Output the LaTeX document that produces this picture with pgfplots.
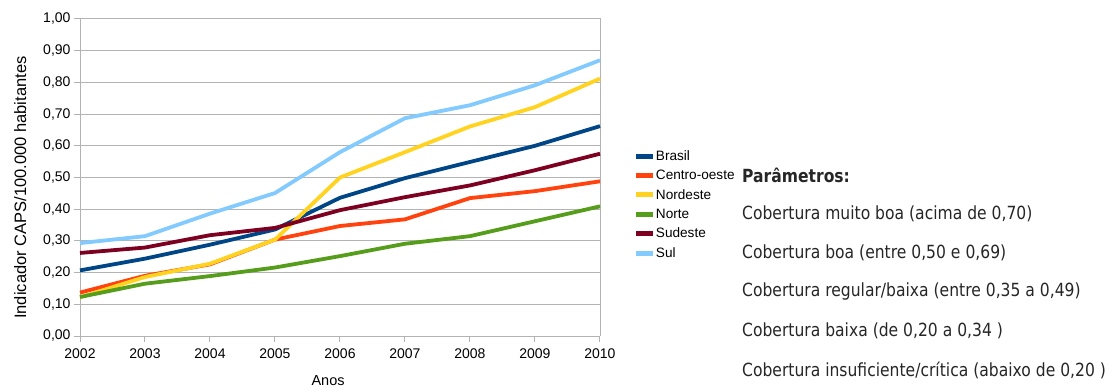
\documentclass[border=0pt]{standalone}
\usepackage{pgfplots}
\pgfplotsset{compat=1.18}
\usepackage{fontspec}
\setmainfont{Liberation Sans}
\newfontfamily\paramfont{DejaVu Sans}[FakeStretch=0.86]
\definecolor{cBrasil}{HTML}{004586}
\definecolor{cCentro}{HTML}{FF420E}
\definecolor{cNordeste}{HTML}{FFD320}
\definecolor{cNorte}{HTML}{579D1C}
\definecolor{cSudeste}{HTML}{7E0021}
\definecolor{cSul}{HTML}{83CAFF}
\definecolor{gridgray}{HTML}{B3B3B3}
\begin{document}
\begin{tikzpicture}[x=1pt,y=1pt]
\useasboundingbox (0,0) rectangle (1113,389);
\begin{axis}[
  at={(80pt,53pt)}, anchor=south west,
  scale only axis, width=520pt, height=317pt,
  xmin=2002, xmax=2010, ymin=0, ymax=1,
  xtick={2002,...,2010},
  ytick={0,0.1,...,1.0},
  /pgf/number format/assume math mode=true,
  xticklabel style={/pgf/number format/1000 sep={}, font=\fontsize{14}{16}\selectfont, yshift=-3pt},
  yticklabel style={/pgf/number format/.cd, fixed, fixed zerofill, precision=2, use comma, /tikz/.cd, font=\fontsize{14}{16}\selectfont},
  scaled y ticks=false,
  axis line style={gridgray, line width=1pt},
  ymajorgrids, grid style={gridgray, line width=1pt},
  tick style={gridgray, line width=1pt},
  xtick align=outside, ytick align=outside,
  major tick length=6pt,
  axis x line*=bottom, axis y line*=left,
  xlabel={Anos}, ylabel={Indicador CAPS/100.000 habitantes},
  xlabel style={font=\fontsize{14.5}{16}\selectfont, at={(axis description cs:0.477,0)}, anchor=center, yshift=-45pt},
  ylabel style={font=\fontsize{16.5}{18}\selectfont, at={(axis description cs:-0.115,0.468)}, anchor=center},
  legend style={at={(1.064,0.589)}, anchor=north west, draw=none, fill=none,
    font=\fontsize{13.6}{15}\selectfont, row sep=6.2pt, inner sep=0pt,
    nodes={inner xsep=0.5pt, inner ysep=1pt}},
  legend cell align=left,
  legend image code/.code={\draw[#1, line width=5pt, line cap=butt] (0pt,0pt) -- (17pt,0pt);},
  every axis plot/.append style={line width=3.8pt, line join=round, no markers},
  clip=false,
]
\draw[gridgray, line width=1pt] (axis cs:2002,1) -- (axis cs:2010,1) -- (axis cs:2010,0);
\addplot[cBrasil] coordinates {(2002,0.207)(2003,0.244)(2004,0.288)(2005,0.336)(2006,0.436)(2007,0.498)(2008,0.549)(2009,0.600)(2010,0.662)};
\addlegendentry{Brasil}
\addplot[cCentro] coordinates {(2002,0.137)(2003,0.190)(2004,0.226)(2005,0.304)(2006,0.347)(2007,0.368)(2008,0.435)(2009,0.457)(2010,0.488)};
\addlegendentry{Centro-oeste}
\addplot[cNordeste] coordinates {(2002,0.122)(2003,0.186)(2004,0.228)(2005,0.304)(2006,0.500)(2007,0.580)(2008,0.661)(2009,0.722)(2010,0.812)};
\addlegendentry{Nordeste}
\addplot[cNorte] coordinates {(2002,0.123)(2003,0.165)(2004,0.189)(2005,0.216)(2006,0.252)(2007,0.291)(2008,0.315)(2009,0.362)(2010,0.409)};
\addlegendentry{Norte}
\addplot[cSudeste] coordinates {(2002,0.262)(2003,0.279)(2004,0.318)(2005,0.341)(2006,0.397)(2007,0.438)(2008,0.475)(2009,0.523)(2010,0.575)};
\addlegendentry{Sudeste}
\addplot[cSul] coordinates {(2002,0.293)(2003,0.315)(2004,0.386)(2005,0.451)(2006,0.580)(2007,0.687)(2008,0.728)(2009,0.791)(2010,0.870)};
\addlegendentry{Sul}
\end{axis}
\begin{scope}[every node/.style={anchor=west, inner sep=0pt, text=black!85, font=\paramfont\fontsize{18.1}{20}\selectfont}]
\node[font=\paramfont\bfseries\fontsize{18.1}{20}\selectfont] at (742,389-175) {Parâmetros:};
\node at (742,389-214) {Cobertura muito boa (acima de 0,70)};
\node at (742,389-253) {Cobertura boa (entre 0,50 e 0,69)};
\node at (742,389-292) {Cobertura regular/baixa (entre 0,35 a 0,49)};
\node at (742,389-331) {Cobertura baixa (de 0,20 a 0,34 )};
\node at (742,389-370) {Cobertura insuficiente/crítica (abaixo de 0,20 )};
\end{scope}
\end{tikzpicture}
\end{document}
